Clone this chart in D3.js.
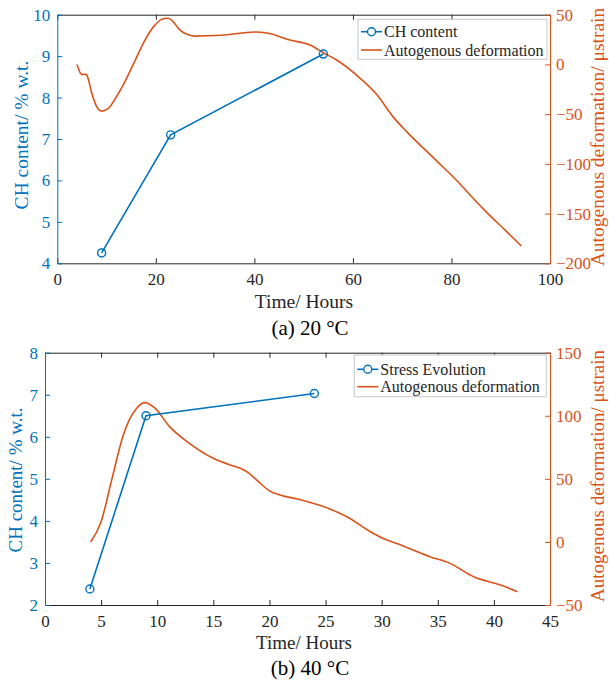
<!DOCTYPE html>
<html>
<head>
<meta charset="utf-8">
<script src="https://cdn.jsdelivr.net/npm/d3@7"></script>
<style>
  html, body { margin: 0; padding: 0; background: #fff; }
  svg { display: block; font-family: "Liberation Serif", "Times New Roman", serif; }
</style>
</head>
<body>
<svg id="chart" width="609" height="682"></svg>
<script>
// ---------- Panel (a) 20 °C ----------
const chTimeA = [9, 23, 54];
const chValueA = [4.25, 7.1, 9.05];
const defTimeA = [4, 4.95, 5.8, 6.1, 7, 8, 9, 10.3, 12, 13.7, 15.8, 17.8, 19.8, 21.2, 22.5, 23.5, 24.9, 26.2, 27.9, 33.3, 40.1, 42.8, 47.2, 51.3, 54, 56.7, 60.7, 64.8, 68.2, 70.9, 77, 81.7, 84.4, 87, 90.5, 92, 94.2];
const defValueA = [0, -10, -10, -12, -29, -42.5, -47, -44.5, -32.5, -17.5, 4, 24.5, 39.5, 45.5, 46.5, 43, 34.5, 30.5, 28.5, 29.3, 32.6, 31.3, 24.6, 19.5, 11.8, 4.4, -10.6, -30, -53, -67.6, -97, -120, -134.6, -148, -164.8, -172, -182.6];
const xTicksA = [0, 20, 40, 60, 80, 100];
const yLeftTicksA = [4, 5, 6, 7, 8, 9, 10];
const yRightTicksA = [-200, -150, -100, -50, 0, 50];
const legendA = ["CH content", "Autogenous deformation"];
const captionA = "(a) 20 °C";

// ---------- Panel (b) 40 °C ----------
const chTimeB = [4, 9, 24];
const chValueB = [2.38, 6.5, 7.03];
const defTimeB = [4.07, 5.0, 5.94, 6.98, 7.5, 8.17, 8.9, 9.8, 11.1, 12.9, 15, 16.5, 17.4, 18.1, 19, 20, 21, 22.5, 24.8, 26.9, 29, 30.2, 31.3, 32.8, 34.3, 36.1, 38.2, 40.6, 42.1];
const defValueB = [0, 16, 49, 84.8, 96.6, 106, 110.4, 106, 91.4, 78, 66.3, 61, 58.4, 55, 48, 40.5, 37, 34, 28, 20, 8.1, 2.5, -1.1, -6.4, -11.7, -17, -27.6, -34.2, -39.5];
const xTicksB = [0, 5, 10, 15, 20, 25, 30, 35, 40, 45];
const yLeftTicksB = [2, 3, 4, 5, 6, 7, 8];
const yRightTicksB = [-50, 0, 50, 100, 150];
const legendB = ["Stress Evolution", "Autogenous deformation"];
const captionB = "(b) 40 °C";

const xLabel = "Time/ Hours";
const yLeftLabel = "CH content/ % w.t.";
const yRightLabel = "Autogenous deformation/ \u03BCstrain";

const BLUE = "#0072BD";
const ORANGE = "#D95319";
const DARK = "#262626";

const svg = d3.select("#chart");

function drawPanel(cfg) {
  const g = svg.append("g");
  const { left, right, top, bottom } = cfg.box;
  const x = d3.scaleLinear().domain(cfg.xDomain).range([left, right]);
  const yL = d3.scaleLinear().domain(cfg.yLDomain).range([bottom, top]);
  const yR = d3.scaleLinear().domain(cfg.yRDomain).range([bottom, top]);

  const xb = g.append("g").attr("transform", `translate(0,${bottom})`)
    .call(d3.axisBottom(x).tickValues(cfg.xTicks).tickSizeInner(-5).tickSizeOuter(0).tickPadding(10).tickFormat(d3.format("d")));
  xb.select(".domain").attr("stroke", DARK);
  xb.selectAll(".tick line").attr("stroke", DARK);
  xb.selectAll("text").attr("fill", DARK).attr("font-size", cfg.tickFont).attr("font-family", "Liberation Serif");

  const xt = g.append("g").attr("transform", `translate(0,${top})`)
    .call(d3.axisTop(x).tickValues(cfg.xTicks).tickSizeInner(-5).tickSizeOuter(0).tickFormat(""));
  xt.select(".domain").attr("stroke", DARK);
  xt.selectAll(".tick line").attr("stroke", DARK);

  const yl = g.append("g").attr("transform", `translate(${left},0)`)
    .call(d3.axisLeft(yL).tickValues(cfg.yLTicks).tickSizeInner(-5).tickSizeOuter(0).tickPadding(7).tickFormat(d3.format("d")));
  yl.select(".domain").attr("stroke", BLUE);
  yl.selectAll(".tick line").attr("stroke", BLUE);
  yl.selectAll("text").attr("fill", BLUE).attr("font-size", cfg.tickFont).attr("font-family", "Liberation Serif");

  const yr = g.append("g").attr("transform", `translate(${right},0)`)
    .call(d3.axisRight(yR).tickValues(cfg.yRTicks).tickSizeInner(-5).tickSizeOuter(0).tickPadding(6).tickFormat(d3.format("d")));
  yr.select(".domain").attr("stroke", ORANGE);
  yr.selectAll(".tick line").attr("stroke", ORANGE);
  yr.selectAll("text").attr("fill", ORANGE).attr("font-size", cfg.tickFont).attr("font-family", "Liberation Serif");

  const defData = cfg.defT.map((t, i) => [t, cfg.defV[i]]);
  g.append("path").datum(defData)
    .attr("fill", "none").attr("stroke", ORANGE).attr("stroke-width", 1.6)
    .attr("stroke-linejoin", "round")
    .attr("d", d3.line().x(d => x(d[0])).y(d => yR(d[1])).curve(d3.curveMonotoneX));

  const chData = cfg.chT.map((t, i) => [t, cfg.chV[i]]);
  g.append("path").datum(chData)
    .attr("fill", "none").attr("stroke", BLUE).attr("stroke-width", 1.6)
    .attr("d", d3.line().x(d => x(d[0])).y(d => yL(d[1])));
  g.selectAll("circle.ch").data(chData).enter().append("circle")
    .attr("cx", d => x(d[0])).attr("cy", d => yL(d[1])).attr("r", 4)
    .attr("fill", "none").attr("stroke", BLUE).attr("stroke-width", 1.4);

  g.append("text").attr("x", cfg.xLabelPos[0]).attr("y", cfg.xLabelPos[1])
    .attr("text-anchor", "middle").attr("font-size", cfg.labelFont).attr("fill", DARK).text(xLabel);
  g.append("text").attr("transform", `translate(${cfg.yLLabelPos[0]},${cfg.yLLabelPos[1]}) rotate(-90)`)
    .attr("text-anchor", "middle").attr("dominant-baseline", "central")
    .attr("font-size", cfg.labelFont).attr("fill", BLUE).text(yLeftLabel);
  g.append("text").attr("transform", `translate(${cfg.yRLabelPos[0]},${cfg.yRLabelPos[1]}) rotate(-90)`)
    .attr("text-anchor", "middle").attr("dominant-baseline", "central")
    .attr("font-size", cfg.rLabelFont).attr("fill", ORANGE).text(yRightLabel);
  g.append("text").attr("x", cfg.captionPos[0]).attr("y", cfg.captionPos[1])
    .attr("text-anchor", "middle").attr("font-size", cfg.captionFont).attr("fill", "#000").text(cfg.caption);

  const L = cfg.legend;
  g.append("rect").attr("x", L.x).attr("y", L.y).attr("width", L.w).attr("height", L.h)
    .attr("fill", "#fff").attr("stroke", "#c8c8c8").attr("stroke-width", 1);
  const r1 = L.y + L.row1, r2 = L.y + L.row2;
  g.append("line").attr("x1", L.x + 3).attr("x2", L.x + 24).attr("y1", r1).attr("y2", r1)
    .attr("stroke", BLUE).attr("stroke-width", 1.6);
  g.append("circle").attr("cx", L.x + 13.5).attr("cy", r1).attr("r", 4)
    .attr("fill", "#fff").attr("stroke", BLUE).attr("stroke-width", 1.4);
  g.append("line").attr("x1", L.x + 3).attr("x2", L.x + 24).attr("y1", r2).attr("y2", r2)
    .attr("stroke", ORANGE).attr("stroke-width", 1.6);
  g.append("text").attr("x", L.x + 26).attr("y", r1).attr("dominant-baseline", "central")
    .attr("font-size", L.font).attr("fill", DARK).text(cfg.legendLabels[0]);
  g.append("text").attr("x", L.x + 26).attr("y", r2).attr("dominant-baseline", "central")
    .attr("font-size", L.font).attr("fill", DARK).text(cfg.legendLabels[1]);
}

drawPanel({
  box: { left: 57.3, right: 550, top: 14.7, bottom: 263.3 },
  xDomain: [0, 100], yLDomain: [4, 10], yRDomain: [-200, 50],
  xTicks: xTicksA, yLTicks: yLeftTicksA, yRTicks: yRightTicksA,
  chT: chTimeA, chV: chValueA, defT: defTimeA, defV: defValueA,
  tickFont: 17, labelFont: 19.5, rLabelFont: 19.5, captionFont: 21,
  xLabelPos: [304, 308], yLLabelPos: [21, 135], yRLabelPos: [597, 137],
  captionPos: [310, 335], caption: captionA,
  legend: { x: 358, y: 19.3, w: 189, h: 40, row1: 12.4, row2: 30.7, font: 16 },
  legendLabels: legendA
});

drawPanel({
  box: { left: 45, right: 550, top: 352.7, bottom: 605 },
  xDomain: [0, 45], yLDomain: [2, 8], yRDomain: [-50, 150],
  xTicks: xTicksB, yLTicks: yLeftTicksB, yRTicks: yRightTicksB,
  chT: chTimeB, chV: chValueB, defT: defTimeB, defV: defValueB,
  tickFont: 17, labelFont: 19, rLabelFont: 19, captionFont: 21,
  xLabelPos: [304, 649], yLLabelPos: [15, 480], yRLabelPos: [597, 476],
  captionPos: [310, 675], caption: captionB,
  legend: { x: 354.3, y: 355, w: 192, h: 41.7, row1: 14.3, row2: 31.7, font: 16 },
  legendLabels: legendB
});
</script>
</body>
</html>
